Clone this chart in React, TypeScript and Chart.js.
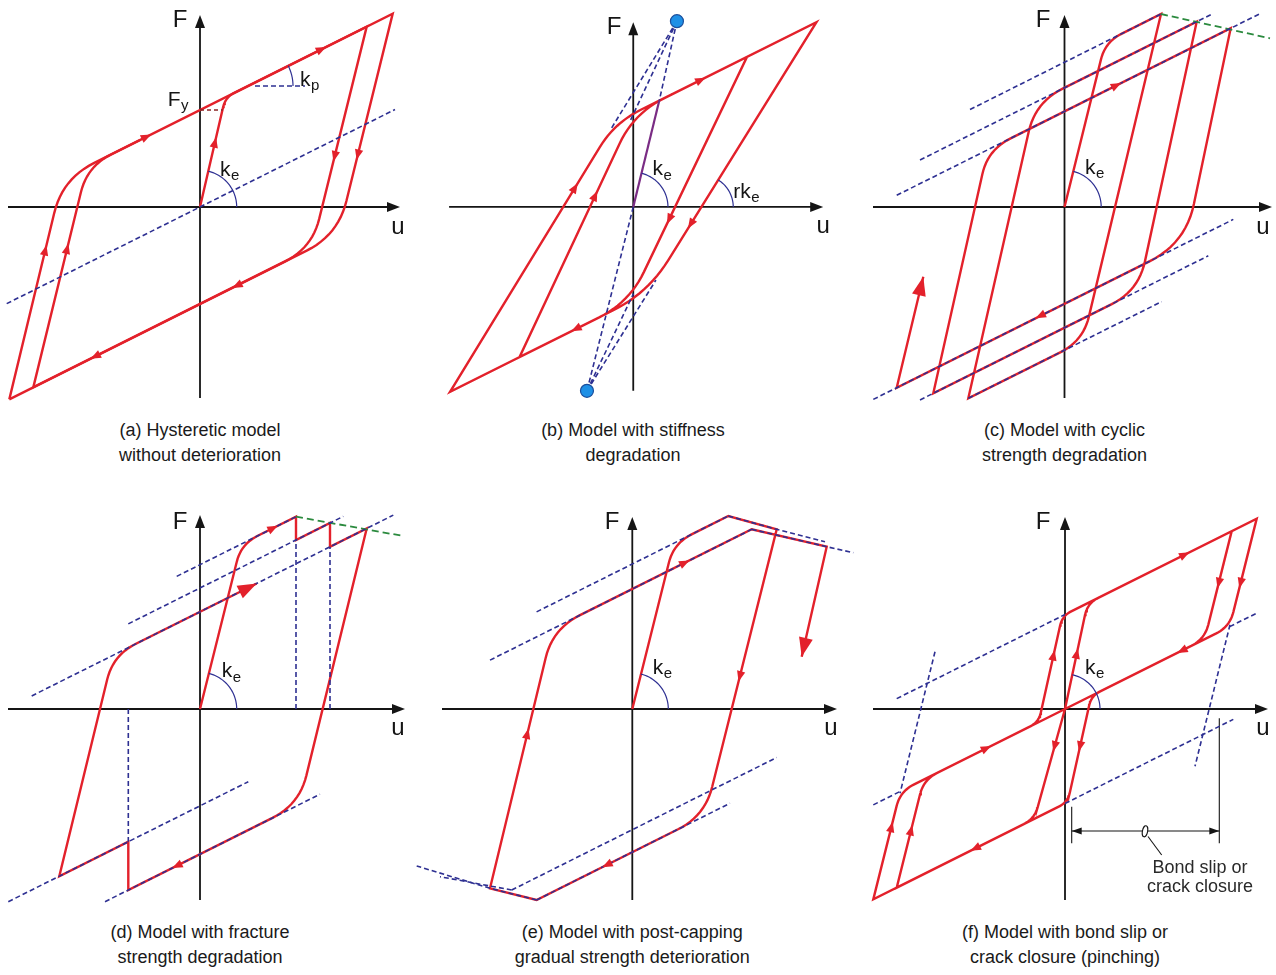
import React, { useEffect, useRef } from "react";
import { Chart, registerables } from "chart.js";

Chart.register(...registerables);

type Pt = number[];

const RED = "#e3212b";
const NAVY = "#2e3092";
const GREEN = "#2b8a3e";
const PURPLE = "#7a2c84";
const INK = "#151515";
const FONT = '"Liberation Sans", Arial, Helvetica, sans-serif';

// ================= (a) Hysteretic model without deterioration =================
const aAxis = [-192, 200, -191, 192];
const aTitles = [[-20, 187, "F"], [198, -20, "u"]];
const aSymbols = [[-32.3, 107, "F", "y"], [100, 127, "k", "p"], [20, 37, "k", "e"]];
const aOuterLoop: Pt[] = [[-190.7, -192.35], [-137.5, 28.2, 35], [192.7, 193.35], [138, -28, 35], [-190.7, -192.35]];
const aInnerLoop: Pt[] = [[0, 0], [25.4, 109.7, 10], [166.7, 180.35], [112, -41, 30], [-166.7, -180.35], [-112.8, 40.6, 30], [-60, 67]];
const aReference: Pt[] = [[-193.3, -96.65], [195, 97.5]];
const aKpBase: Pt[] = [[55, 121], [105, 121]];
const aFyLevel: Pt[] = [[0, 97], [22.7, 97]];
const aArrows = [[-53.3, 70.35, 1, 0.5], [121.7, 157.85, 1, 0.5], [15, 64.8, 1, 4.32], [134.6, 50.3, -1, -4.05], [157.8, 52, -1, -4.05], [36.7, -78.65, -1, -0.5], [-105, -149.5, -1, -0.5], [-154.7, -43, 1, 4.15], [-132.8, -41.3, 1, 4.1]];
const aArcs = [[0, 0, 36.7, 0, 77], [48, 121, 45, 0, 26.6]];

// ================= (b) Stiffness degradation =================
const bAxis = [-191, 197, -191, 192];
const bTitles = [[-20, 187, "F"], [197, -20, "u"]];
const bSymbols = [[20, 39, "k", "e"], [103.7, 15.3, "rk", "e"]];
const bLoops: Pt[] = [[27, 110.5], [118, 156], [-4, -99, 35], [-118, -156], [0.5, 97.2, 35], [190, 192], [15.1, -89.4, 40], [-190, -192], [-19.3, 87.4, 45], [40, 117]];
const bElastic: Pt[] = [[0, 0], [27, 110.5]];
const bTargetPoints: Pt[] = [[45.3, 193], [-48, -191]];
const bRayUp1: Pt[] = [[45.3, 193], [-22.5, 82]];
const bRayUp2: Pt[] = [[45.3, 193], [-2.9, 90]];
const bRayUp3: Pt[] = [[45.3, 193], [27, 110.5]];
const bRayDown1: Pt[] = [[0, 0], [-48, -191]];
const bRayDown2: Pt[] = [[-48, -191], [23.5, -76]];
const bRayDown3: Pt[] = [[-48, -191], [0.3, -90]];
const bArrows = [[70.3, 132, 1, 0.5], [-60.3, 20.3, 235, 385], [-39.4, 12, 163, 349], [37.2, -13, -166, -347], [59.5, -18, -238, -383], [-59.7, -126.8, -1, -0.5]];
const bArcs = [[0, 0, 36, 0, 76.3], [70.7, 0, 33, 0, 58.1]];

// ================= (c) Cyclic strength degradation =================
const cAxis = [-191.5, 207.5, -191, 192];
const cTitles = [[-21.5, 187, "F"], [198.5, -20, "u"]];
const cSymbols = [[20.5, 38.7, "k", "e"]];
const cPath: Pt[] = [[0, 0], [40.8, 165.1, 18], [96.5, 193], [18.6, -133.9, 25], [-96.2, -191.3], [-29.1, 104.7, 30], [132.2, 185.3], [74.1, -83.7, 30], [-131.2, -186.3], [-76.7, 57.2, 25], [166.2, 178.7], [121.2, -36.2, 40], [-167.8, -180.7], [-141.2, -69.7]];
const cUpper1: Pt[] = [[-94.5, 97.5], [96.5, 193]];
const cUpper2: Pt[] = [[-144.5, 47], [147.6, 193]];
const cUpper3: Pt[] = [[-167.8, 11.7], [194.8, 193]];
const cLower1: Pt[] = [[-96.2, -191.3], [97.2, -94.6]];
const cLower2: Pt[] = [[-144.5, -192.95], [143.8, -48.8]];
const cLower3: Pt[] = [[-191.2, -192.4], [168.8, -12.4]];
const cPeakTrend: Pt[] = [[96.5, 193], [205.5, 168.7]];
const cArrows = [[52.2, 121.7, 1, 0.5], [-24.5, -109.05, -1, -0.5]];
const cEndArrows = [[-141.2, -69.7, 26.6, 111]];
const cArcs = [[0, 0, 36.7, 0, 76]];

// ================= (d) Fracture strength degradation =================
const dAxis = [-192, 205, -191, 194];
const dTitles = [[-20, 187, "F"], [198, -19, "u"]];
const dSymbols = [[21.7, 37.3, "k", "e"]];
const dPath: Pt[] = [[0, 0], [41.2, 164.9, 18], [96, 192.3], [96, 169], [130, 186], [130, 162.2], [166.7, 180.55], [99.3, -95.5, 30], [-71.7, -181.05], [-71.7, -132.7], [-140.7, -167.2], [-86.9, 53.8, 25], [56.7, 125.55]];
const dBackboneA: Pt[] = [[-23.3, 132.65], [96, 192.3]];
const dBackboneB: Pt[] = [[-71.7, 85.15], [143.3, 192.65]];
const dBackboneC: Pt[] = [[-168.3, 13.05], [193.3, 193.85]];
const dLower1: Pt[] = [[-191.7, -192.7], [48.3, -72.7]];
const dLower2: Pt[] = [[-95, -192.7], [120, -85.2]];
const dDrop1: Pt[] = [[96, 0], [96, 169]];
const dDrop2: Pt[] = [[130, 0], [130, 162.2]];
const dDrop3: Pt[] = [[-71.7, 0], [-71.7, -132.7]];
const dPeakTrend: Pt[] = [[96, 192.3], [203.3, 173]];
const dArrows = [[73.3, 180.95, 1, 0.5], [-23.3, -156.85, -1, -0.5]];
const dEndArrows = [[56.7, 125.55, 1, 0.5]];
const dArcs = [[0, 0, 36.7, 0, 76]];

// ================= (e) Post-capping gradual deterioration =================
const eAxis = [-190.3, 204.7, -191, 192];
const eTitles = [[-20.3, 187, "F"], [198.7, -19, "u"]];
const eSymbols = [[20.4, 40.7, "k", "e"]];
const ePath: Pt[] = [[0, 0], [41.4, 165.7, 20], [96, 193], [144.4, 179.7], [72.6, -106.9, 30], [-95.7, -191], [-142.3, -179.3], [-79.6, 80.2, 30], [119.4, 179.7], [194.4, 162.3], [169.4, 52.3]];
const eUpper1: Pt[] = [[-95.7, 97.15], [96, 193]];
const eUpper2: Pt[] = [[-142.3, 48.85], [119.4, 179.7]];
const eLower1: Pt[] = [[-95.7, -191], [97.7, -94.3]];
const eLower2: Pt[] = [[-120.6, -181], [144.4, -48.5]];
const eCap1: Pt[] = [[96, 193], [144.4, 179.7], [192.7, 167.3]];
const eCap2: Pt[] = [[119.4, 179.7], [194.4, 162.3], [221, 156.3]];
const eCapNeg1: Pt[] = [[-95.7, -191], [-142.3, -179.3], [-215.6, -157]];
const eCapNeg2: Pt[] = [[-120.6, -181], [-192.3, -167.7]];
const eArrows = [[52.7, 146.35, 1, 0.5], [107.5, 32.3, -45, -179.7], [-104.9, -24.3, 43.3, 179.3], [-25.6, -155.95, -1, -0.5]];
const eEndArrows = [[169.4, 52.3, -25, -110]];
const eArcs = [[0, 0, 36, 0, 76]];

// ================= (f) Bond slip / pinching =================
const fAxis = [-192, 203, -191, 192];
const fTitles = [[-22, 187, "F"], [198, -19, "u"]];
const fSymbols = [[20, 40.7, "k", "e"]];
const fPath: Pt[] = [[0, 0], [22.5, 105.75, 12], [166.7, 177.85], [139.7, 69.85, 15], [0, 0], [-30.5, -109.7, 12], [-168.3, -178.65], [-141.3, -70.65, 15], [-26.3, -13.15, 10], [-2.7, 93.2, 10], [191.7, 190.35], [164.7, 82.35, 15], [26.3, 13.15, 10], [2.7, -93.2, 10], [-191.7, -190.35], [-164.7, -82.35, 15], [0, 0]];
const fUpperExt: Pt[] = [[-168.3, 10.35], [0, 94.5]];
const fLowerExt: Pt[] = [[0, -94.5], [168.3, -10.35]];
const fSlipExt1: Pt[] = [[164.7, 82.35], [191.7, 95.85]];
const fSlipExt2: Pt[] = [[-191.7, -95.85], [-164.7, -82.35]];
const fSteepLeft: Pt[] = [[-130, 57.3], [-165, -84.3]];
const fSteepRight: Pt[] = [[165, 84.3], [130, -57.3]];
const fDimTick1: Pt[] = [[6.7, -97.7], [6.7, -134.3]];
const fDimTick2: Pt[] = [[154.3, -9.3], [154.3, -134.3]];
const fDimSpan: Pt[] = [[6.7, -122], [154.3, -122]];
const fLeader: Pt[] = [[83, -127.5], [96.7, -146]];
const fDimArrows = [[6.7, -122, -1, 0], [154.3, -122, 1, 0]];
const fMarker = [80, -122.3];
const fNotes = [[135, -159, "Bond slip or"], [135, -178, "crack closure"]];
const fArrows = [[120, 154.5, 1, 0.5], [153.7, 125.7, -1, -4], [175.5, 125.7, -1, -4], [116.7, 58.35, -1, -0.5], [-11.4, 54, 1, 4.5], [11.85, 55.7, 1, 4.7], [-10.5, -37.7, -1, -3.6], [15, -37.7, -1, -4.5], [-78.3, -39.15, 1, 0.5], [-90, -139.5, -1, -0.5], [-173.5, -117.7, 1, 4], [-153.9, -121, 1, 4]];
const fArcs = [[0, 0, 35, 0, 78]];

// ================= captions =================
const captionsA = ["(a) Hysteretic model", "without deterioration"];
const captionsB = ["(b) Model with stiffness", "degradation"];
const captionsC = ["(c) Model with cyclic", "strength degradation"];
const captionsD = ["(d) Model with fracture", "strength degradation"];
const captionsE = ["(e) Model with post-capping", "gradual strength deterioration"];
const captionsF = ["(f) Model with bond slip or", "crack closure (pinching)"];

// ---------- helpers ----------
function rounded(pts: Pt[], steps = 12) {
  const out: { x: number; y: number }[] = [];
  for (let i = 0; i < pts.length; i++) {
    const x = pts[i][0], y = pts[i][1], r = pts[i][2] || 0;
    if (!r || i === 0 || i === pts.length - 1) { out.push({ x, y }); continue; }
    const px = pts[i - 1][0], py = pts[i - 1][1], nx = pts[i + 1][0], ny = pts[i + 1][1];
    const d1 = Math.hypot(px - x, py - y), d2 = Math.hypot(nx - x, ny - y);
    const rr = Math.min(r, d1 * 0.45, d2 * 0.45);
    const ax = x + (px - x) * rr / d1, ay = y + (py - y) * rr / d1;
    const bx = x + (nx - x) * rr / d2, by = y + (ny - y) * rr / d2;
    for (let s = 0; s <= steps; s++) {
      const t = s / steps, m = 1 - t;
      out.push({ x: m * m * ax + 2 * m * t * x + t * t * bx, y: m * m * ay + 2 * m * t * y + t * t * by });
    }
  }
  return out;
}

const STYLES: any = {
  red: { borderColor: RED, borderWidth: 2.4, order: 3 },
  purple: { borderColor: PURPLE, borderWidth: 2.2, order: 1 },
  dash: { borderColor: NAVY, borderWidth: 1.6, borderDash: [5, 3], order: 2 },
  green: { borderColor: GREEN, borderWidth: 1.8, borderDash: [7, 4], order: 2 },
  brown: { borderColor: "#8a2424", borderWidth: 1.6, borderDash: [4, 3], order: 2 },
  dim: { borderColor: INK, borderWidth: 1.1, order: 2 },
};

function head(ctx: any, tx: number, ty: number, dx: number, dy: number, len: number, hw: number) {
  const n = Math.hypot(dx, dy) || 1;
  const ux = dx / n, uy = dy / n;
  const bx = tx - ux * len, by = ty - uy * len;
  ctx.beginPath();
  ctx.moveTo(tx, ty);
  ctx.lineTo(bx - uy * hw, by + ux * hw);
  ctx.lineTo(bx + uy * hw, by - ux * hw);
  ctx.closePath();
  ctx.fill();
}

type Panel = {
  id: string; left: number; top: number; width: number; height: number; ox: number; oy: number;
  axis: number[]; titles: any[]; symbols: any[]; lines: { pts: Pt[]; kind: string }[];
  arrows?: number[][]; endArrows?: number[][]; dimArrows?: number[][]; arcs?: number[][];
  circles?: Pt[]; marker?: number[]; notes?: any[]; captions: string[];
};

const PANELS: Panel[] = [
  {
    id: "a", left: 0, top: 0, width: 425, height: 412, ox: 200, oy: 207, axis: aAxis, titles: aTitles, symbols: aSymbols,
    lines: [{ pts: aOuterLoop, kind: "red" }, { pts: aInnerLoop, kind: "red" }, { pts: aReference, kind: "dash" }, { pts: aKpBase, kind: "dash" }, { pts: aFyLevel, kind: "brown" }],
    arrows: aArrows, arcs: aArcs, captions: captionsA,
  },
  {
    id: "b", left: 425, top: 0, width: 430, height: 412, ox: 633, oy: 207, axis: bAxis, titles: bTitles, symbols: bSymbols,
    lines: [{ pts: bLoops, kind: "red" }, { pts: bElastic, kind: "purple" }, { pts: bRayUp1, kind: "dash" }, { pts: bRayUp2, kind: "dash" }, { pts: bRayUp3, kind: "dash" }, { pts: bRayDown1, kind: "dash" }, { pts: bRayDown2, kind: "dash" }, { pts: bRayDown3, kind: "dash" }],
    arrows: bArrows, arcs: bArcs, circles: bTargetPoints, captions: captionsB,
  },
  {
    id: "c", left: 851, top: 0, width: 425, height: 412, ox: 1064.5, oy: 207, axis: cAxis, titles: cTitles, symbols: cSymbols,
    lines: [{ pts: cPath, kind: "red" }, { pts: cUpper1, kind: "dash" }, { pts: cUpper2, kind: "dash" }, { pts: cUpper3, kind: "dash" }, { pts: cLower1, kind: "dash" }, { pts: cLower2, kind: "dash" }, { pts: cLower3, kind: "dash" }, { pts: cPeakTrend, kind: "green" }],
    arrows: cArrows, endArrows: cEndArrows, arcs: cArcs, captions: captionsC,
  },
  {
    id: "d", left: 0, top: 498, width: 425, height: 412, ox: 200, oy: 709, axis: dAxis, titles: dTitles, symbols: dSymbols,
    lines: [{ pts: dPath, kind: "red" }, { pts: dBackboneA, kind: "dash" }, { pts: dBackboneB, kind: "dash" }, { pts: dBackboneC, kind: "dash" }, { pts: dLower1, kind: "dash" }, { pts: dLower2, kind: "dash" }, { pts: dDrop1, kind: "dash" }, { pts: dDrop2, kind: "dash" }, { pts: dDrop3, kind: "dash" }, { pts: dPeakTrend, kind: "green" }],
    arrows: dArrows, endArrows: dEndArrows, arcs: dArcs, captions: captionsD,
  },
  {
    id: "e", left: 410, top: 498, width: 450, height: 412, ox: 632.3, oy: 709, axis: eAxis, titles: eTitles, symbols: eSymbols,
    lines: [{ pts: ePath, kind: "red" }, { pts: eUpper1, kind: "dash" }, { pts: eUpper2, kind: "dash" }, { pts: eLower1, kind: "dash" }, { pts: eLower2, kind: "dash" }, { pts: eCap1, kind: "dash" }, { pts: eCap2, kind: "dash" }, { pts: eCapNeg1, kind: "dash" }, { pts: eCapNeg2, kind: "dash" }],
    arrows: eArrows, endArrows: eEndArrows, arcs: eArcs, captions: captionsE,
  },
  {
    id: "f", left: 851, top: 498, width: 425, height: 412, ox: 1065, oy: 709, axis: fAxis, titles: fTitles, symbols: fSymbols,
    lines: [{ pts: fPath, kind: "red" }, { pts: fUpperExt, kind: "dash" }, { pts: fLowerExt, kind: "dash" }, { pts: fSlipExt1, kind: "dash" }, { pts: fSlipExt2, kind: "dash" }, { pts: fSteepLeft, kind: "dash" }, { pts: fSteepRight, kind: "dash" }, { pts: fDimTick1, kind: "dim" }, { pts: fDimTick2, kind: "dim" }, { pts: fDimSpan, kind: "dim" }, { pts: fLeader, kind: "dim" }],
    arrows: fArrows, dimArrows: fDimArrows, arcs: fArcs, marker: fMarker, notes: fNotes, captions: captionsF,
  },
];

function makePlugin(p: Panel) {
  return {
    id: "deco_" + p.id,
    beforeDatasetsDraw(chart: any) {
      const ctx = chart.ctx;
      const X = (v: number) => chart.scales.x.getPixelForValue(v);
      const Y = (v: number) => chart.scales.y.getPixelForValue(v);
      const [u0, u1, f0, f1] = p.axis;
      ctx.save();
      ctx.strokeStyle = INK;
      ctx.fillStyle = INK;
      ctx.lineWidth = 1.8;
      ctx.beginPath();
      ctx.moveTo(X(u0), Y(0));
      ctx.lineTo(X(u1) - 8, Y(0));
      ctx.moveTo(X(0), Y(f0));
      ctx.lineTo(X(0), Y(f1) + 8);
      ctx.stroke();
      head(ctx, X(u1), Y(0), 1, 0, 13, 5);
      head(ctx, X(0), Y(f1), 0, -1, 13, 5);
      ctx.restore();
    },
    afterDatasetsDraw(chart: any) {
      const ctx = chart.ctx;
      const X = (v: number) => chart.scales.x.getPixelForValue(v);
      const Y = (v: number) => chart.scales.y.getPixelForValue(v);
      ctx.save();
      // angle arcs
      ctx.strokeStyle = NAVY;
      ctx.lineWidth = 1.2;
      (p.arcs || []).forEach(([cu, cf, r, a0, a1]) => {
        ctx.beginPath();
        for (let s = 0; s <= 30; s++) {
          const a = ((a0 + (a1 - a0) * s / 30) * Math.PI) / 180;
          const x = X(cu + r * Math.cos(a)), y = Y(cf + r * Math.sin(a));
          if (s === 0) ctx.moveTo(x, y); else ctx.lineTo(x, y);
        }
        ctx.stroke();
      });
      // direction arrows on curves
      ctx.fillStyle = RED;
      (p.arrows || []).forEach(([u, f, du, df]) => {
        const n = Math.hypot(du, df);
        const dx = du / n, dy = -df / n;
        head(ctx, X(u) + dx * 5, Y(f) + dy * 5, dx, dy, 10.5, 4.2);
      });
      (p.endArrows || []).forEach(([u, f, du, df]) => {
        head(ctx, X(u), Y(f), du, -df, 19, 7);
      });
      ctx.fillStyle = INK;
      (p.dimArrows || []).forEach(([u, f, du, df]) => {
        head(ctx, X(u), Y(f), du, -df, 10, 3.5);
      });
      if (p.marker) {
        ctx.beginPath();
        ctx.ellipse(X(p.marker[0]), Y(p.marker[1]), 2.6, 5.6, 0.2, 0, Math.PI * 2);
        ctx.fillStyle = "#fff";
        ctx.fill();
        ctx.strokeStyle = INK;
        ctx.lineWidth = 1.1;
        ctx.stroke();
      }
      // texts
      ctx.fillStyle = INK;
      ctx.textBaseline = "middle";
      p.titles.forEach(([u, f, t]) => {
        ctx.font = `24px ${FONT}`;
        ctx.textAlign = "center";
        ctx.fillText(t, X(u), Y(f));
      });
      p.symbols.forEach(([u, f, t, sub]) => {
        ctx.font = `21px ${FONT}`;
        ctx.textAlign = "left";
        ctx.fillText(t, X(u), Y(f));
        const w = ctx.measureText(t).width;
        ctx.font = `15px ${FONT}`;
        ctx.fillText(sub, X(u) + w + 0.5, Y(f) + 6);
      });
      (p.notes || []).forEach(([u, f, t]) => {
        ctx.font = `18px ${FONT}`;
        ctx.textAlign = "center";
        ctx.fillStyle = "#2a2a2a";
        ctx.fillText(t, X(u), Y(f));
      });
      ctx.restore();
    },
  };
}

function PanelChart({ p }: { p: Panel }) {
  const ref = useRef<HTMLCanvasElement | null>(null);
  useEffect(() => {
    if (!ref.current) return;
    const datasets: any[] = p.lines.map((l) => ({
      data: rounded(l.pts),
      showLine: true,
      pointRadius: 0,
      fill: false,
      tension: 0,
      borderJoinStyle: "miter",
      ...STYLES[l.kind],
    }));
    if (p.circles) {
      datasets.push({
        data: p.circles.map((c) => ({ x: c[0], y: c[1] })),
        showLine: false,
        pointRadius: 6.5,
        pointBackgroundColor: "#1e90e6",
        pointBorderColor: "#1c4f9c",
        pointBorderWidth: 1.2,
        order: 0,
      });
    }
    const chart = new Chart(ref.current, {
      type: "scatter",
      data: { datasets },
      options: {
        animation: false,
        responsive: false,
        maintainAspectRatio: false,
        devicePixelRatio: 1,
        events: [],
        layout: { padding: 0 },
        plugins: { legend: { display: false }, tooltip: { enabled: false }, title: { display: false } },
        scales: {
          x: { type: "linear", display: false, min: p.left - p.ox, max: p.left + p.width - p.ox },
          y: { type: "linear", display: false, min: p.oy - (p.top + p.height), max: p.oy - p.top },
        },
      },
      plugins: [makePlugin(p)],
    } as any);
    return () => chart.destroy();
  }, [p]);
  return (
    <canvas
      ref={ref}
      width={p.width}
      height={p.height}
      style={{ position: "absolute", left: p.left, top: p.top, width: p.width, height: p.height }}
    />
  );
}

export default function App() {
  return (
    <div style={{ position: "absolute", left: 0, top: 0, width: 1276, height: 975, background: "#fff", overflow: "hidden" }}>
      {PANELS.map((p) => (
        <PanelChart key={p.id} p={p} />
      ))}
      {PANELS.map((p) => (
        <div
          key={"cap" + p.id}
          style={{
            position: "absolute",
            left: p.ox - 210,
            top: p.oy + 211,
            width: 420,
            textAlign: "center",
            fontFamily: FONT,
            fontSize: 18,
            lineHeight: "25px",
            color: "#1a1a1a",
          }}
        >
          {p.captions.map((c, i) => (
            <div key={i}>{c}</div>
          ))}
        </div>
      ))}
    </div>
  );
}
